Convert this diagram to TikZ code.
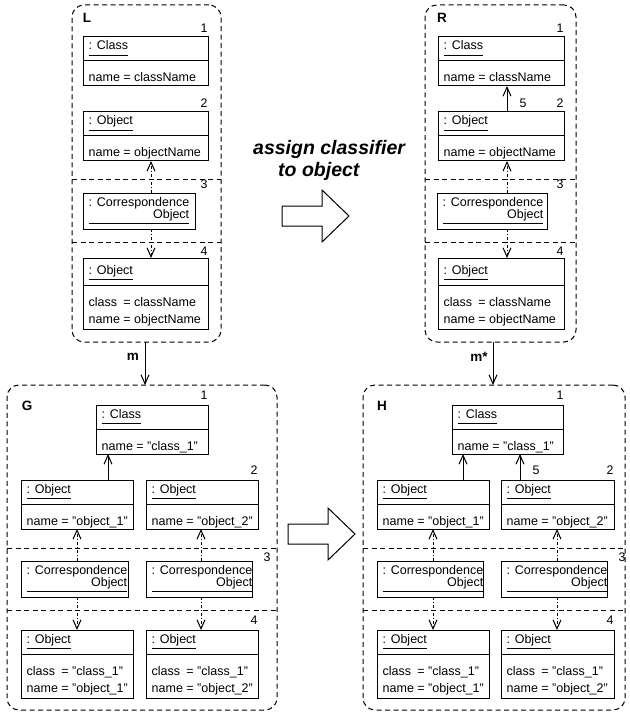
\documentclass[tikz,border=0pt]{standalone}
\usepackage{fontspec}
\setmainfont{Liberation Sans}
\usetikzlibrary{arrows.meta}
\tikzset{
  box/.style={draw, line width=1pt, inner sep=0pt, outer sep=0pt},
  frame/.style={draw, dash pattern=on 5pt off 3.5pt, rounded corners=12pt, line width=1pt, inner sep=0pt, outer sep=0pt},
  sepline/.style={dash pattern=on 5pt off 3.5pt, line width=1pt},
  txt/.style={inner sep=0pt, font=\fontsize{12.5}{14}\selectfont},
  num/.style={inner sep=0pt, font=\fontsize{12.4}{14}\selectfont},
  lbl/.style={inner sep=0pt, font=\fontsize{13.5}{15}\selectfont\bfseries},
  title/.style={inner sep=0pt, anchor=base west, font=\fontsize{19.5}{23}\selectfont\bfseries\itshape},
  link/.style={line width=1pt, -{Straight Barb[length=9pt,width=8pt]}},
  corrlink/.style={line width=1pt, dash pattern=on 3pt off 2pt on 1pt off 2pt, -{Straight Barb[length=9pt,width=8pt]}},
  bigarrow/.style={draw, line width=1pt, fill=white}
}
\newcommand\attr[2]{\makebox[2.78em][l]{#1}= #2}
% name, x, y, width, header height, body height, header text, body line
\newcommand\umlbox[8]{%
  \node[box, minimum width=#4pt, minimum height=#5pt+#6pt, anchor=north west] (#1) at (#2,#3) {};
  \draw[line width=1pt] ([yshift=-#5pt]#1.north west) -- ([yshift=-#5pt]#1.north east);
  \node[txt, anchor=base west] (#1h) at ([xshift=5.5pt,yshift=-#5pt+11pt]#1.north west) {#7};
  \draw[line width=0.9pt] ([yshift=-5pt]#1h.base west) -- ([yshift=-5pt]#1h.base east);
  \node[txt, anchor=base west] (#1a) at ([xshift=5.5pt,yshift=-#5pt-21pt]#1.north west) {#8};
}
% second body line: box name, header height, text
\newcommand\secline[3]{%
  \node[txt, anchor=base west] (#1b) at ([xshift=5.5pt,yshift=-#2pt-38pt]#1.north west) {#3};
}
% correspondence box: name, x, y, width
\newcommand\corrbox[4]{%
  \node[box, minimum width=#4pt, minimum height=36pt, anchor=north west] (#1) at (#2,#3) {};
  \node[txt, anchor=base west] (#1a) at ([xshift=5.5pt,yshift=-13.5pt]#1.north west) {: Correspondence};
  \node[txt, anchor=base east] (#1b) at ([yshift=-11.5pt]#1a.base east) {Object};
  \draw[line width=0.9pt] ([yshift=-16.5pt]#1a.base west) -- ([yshift=-16.5pt]#1a.base east);
}
\begin{document}
\begin{tikzpicture}[x=1pt,y=-1pt]
\useasboundingbox (0,0) rectangle (629,714);

% ---------------- L ----------------
\node[frame, minimum width=149pt, minimum height=337pt, anchor=north west] (Lf) at (72,5) {};
\draw[sepline] (Lf.west |- 0,180) -- (Lf.east |- 0,180);
\draw[sepline] (Lf.west |- 0,242) -- (Lf.east |- 0,242);
\node[lbl] (Llab) at (87,18) {L};
\node[num] (L1) at (204,28) {1};
\node[num] (L2) at (204,103) {2};
\node[num] (L3) at (204,184) {3};
\node[num] (L4) at (204,251) {4};
\umlbox{Lc}{83}{37}{125}{24}{25}{: Class}{name = className}
\umlbox{Lo}{83}{112}{125}{24}{25}{: Object}{name = objectName}
\corrbox{Lk}{83}{193}{112}
\umlbox{Lp}{83}{258}{125}{27}{44}{: Object}{\attr{class}{className}}
\secline{Lp}{27}{\attr{name}{objectName}}
\coordinate (Lx) at (151,0);
\draw[corrlink] (Lk.north -| Lx) -- (Lo.south -| Lx);
\draw[corrlink] (Lk.south -| Lx) -- (Lp.north -| Lx);

% ---------------- R ----------------
\node[frame, minimum width=151pt, minimum height=337pt, anchor=north west] (Rf) at (425,5) {};
\draw[sepline] (Rf.west |- 0,180) -- (Rf.east |- 0,180);
\draw[sepline] (Rf.west |- 0,242) -- (Rf.east |- 0,242);
\node[lbl] (Rlab) at (442,18) {R};
\node[num] (R1) at (560,28) {1};
\node[num] (R2) at (560,103) {2};
\node[num] (R5) at (523,103) {5};
\node[num] (R3) at (560,184) {3};
\node[num] (R4) at (560,251) {4};
\umlbox{Rc}{438}{37}{126}{24}{25}{: Class}{name = className}
\umlbox{Ro}{438}{112}{126}{24}{25}{: Object}{name = objectName}
\corrbox{Rk}{437}{193}{110}
\umlbox{Rp}{438}{258}{126}{27}{44}{: Object}{\attr{class}{className}}
\secline{Rp}{27}{\attr{name}{objectName}}
\coordinate (Rx) at (507,0);
\draw[link] (Ro.north -| Rx) -- (Rc.south -| Rx);
\draw[corrlink] (Rk.north -| Rx) -- (Ro.south -| Rx);
\draw[corrlink] (Rk.south -| Rx) -- (Rp.north -| Rx);

% ---------------- rule arrow and title ----------------
\draw[bigarrow] (282,206) -- (322,206) -- (322,190) -- (349,216) -- (322,242) -- (322,226) -- (282,226) -- cycle;
\node[title] (t1) at (253,155) {assign classifier};
\node[title] (t2) at (278,177) {to object};

% ---------------- m, m* ----------------
\coordinate (mx) at (145,0);
\draw[link] (Lf.south -| mx) -- (0,385 -| mx) coordinate (mend);
\node[lbl] (mlab) at (133,357) {m};
\coordinate (msx) at (493,0);
\draw[link] (Rf.south -| msx) -- (0,385 -| msx) coordinate (msend);
\node[lbl] (mslab) at (479,357) {m*};

% ---------------- G ----------------
\node[frame, minimum width=270pt, minimum height=325pt, anchor=north west] (Gf) at (7,385) {};
\draw[sepline] (Gf.west |- 0,548) -- (Gf.east |- 0,548);
\draw[sepline] (Gf.west |- 0,610) -- (Gf.east |- 0,610);
\node[lbl] (Glab) at (27,406) {G};
\node[num] (G1) at (204,395) {1};
\node[num] (G2) at (254,470) {2};
\node[num] (G3) at (267,557) {3};
\node[num] (G4) at (254,620) {4};
\umlbox{Gc}{96}{405}{112}{24}{25}{: Class}{name = "class\_1"}
\umlbox{Go}{21}{480}{112}{24}{25}{: Object}{name = "object\_1"}
\umlbox{Gq}{146}{480}{112}{24}{25}{: Object}{name = "object\_2"}
\corrbox{Gk}{21}{561}{107}
\corrbox{Gl}{146}{561}{106}
\umlbox{Gp}{21}{630}{112}{24}{44}{: Object}{\attr{class}{"class\_1"}}
\secline{Gp}{24}{\attr{name}{"object\_1"}}
\umlbox{Gr}{146}{630}{112}{24}{44}{: Object}{\attr{class}{"class\_1"}}
\secline{Gr}{24}{\attr{name}{"object\_2"}}
\coordinate (Ga) at (108,0);
\draw[link] (Go.north -| Ga) -- (Gc.south -| Ga);
\coordinate (Gx) at (77,0);
\coordinate (Gy) at (201,0);
\draw[corrlink] (Gk.north -| Gx) -- (Go.south -| Gx);
\draw[corrlink] (Gk.south -| Gx) -- (Gp.north -| Gx);
\draw[corrlink] (Gl.north -| Gy) -- (Gq.south -| Gy);
\draw[corrlink] (Gl.south -| Gy) -- (Gr.north -| Gy);

% ---------------- derivation arrow ----------------
\draw[bigarrow] (288,524) -- (328,524) -- (328,508) -- (355,534) -- (328,560) -- (328,544) -- (288,544) -- cycle;

% ---------------- H ----------------
\node[frame, minimum width=262pt, minimum height=325pt, anchor=north west] (Hf) at (363,385) {};
\draw[sepline] (Hf.west |- 0,548) -- (Hf.east |- 0,548);
\draw[sepline] (Hf.west |- 0,610) -- (Hf.east |- 0,610);
\node[lbl] (Hlab) at (382,406) {H};
\node[num] (H1) at (560,395) {1};
\node[num] (H2) at (610,470) {2};
\node[num] (H5) at (536,470) {5};
\node[num] (H3) at (622,557) {3};
\node[num] (H4) at (610,620) {4};
\umlbox{Hc}{452}{405}{111}{24}{25}{: Class}{name = "class\_1"}
\umlbox{Ho}{377}{480}{112}{24}{25}{: Object}{name = "object\_1"}
\umlbox{Hq}{501}{480}{113}{24}{25}{: Object}{name = "object\_2"}
\corrbox{Hk}{377}{561}{106}
\corrbox{Hl}{501}{561}{106}
\umlbox{Hp}{377}{630}{112}{24}{44}{: Object}{\attr{class}{"class\_1"}}
\secline{Hp}{24}{\attr{name}{"object\_1"}}
\umlbox{Hr}{501}{630}{113}{24}{44}{: Object}{\attr{class}{"class\_1"}}
\secline{Hr}{24}{\attr{name}{"object\_2"}}
\coordinate (Ha) at (463,0);
\coordinate (Hb) at (520,0);
\draw[link] (Ho.north -| Ha) -- (Hc.south -| Ha);
\draw[link] (Hq.north -| Hb) -- (Hc.south -| Hb);
\coordinate (Hx) at (433,0);
\coordinate (Hy) at (557,0);
\draw[corrlink] (Hk.north -| Hx) -- (Ho.south -| Hx);
\draw[corrlink] (Hk.south -| Hx) -- (Hp.north -| Hx);
\draw[corrlink] (Hl.north -| Hy) -- (Hq.south -| Hy);
\draw[corrlink] (Hl.south -| Hy) -- (Hr.north -| Hy);
\end{tikzpicture}
\end{document}
